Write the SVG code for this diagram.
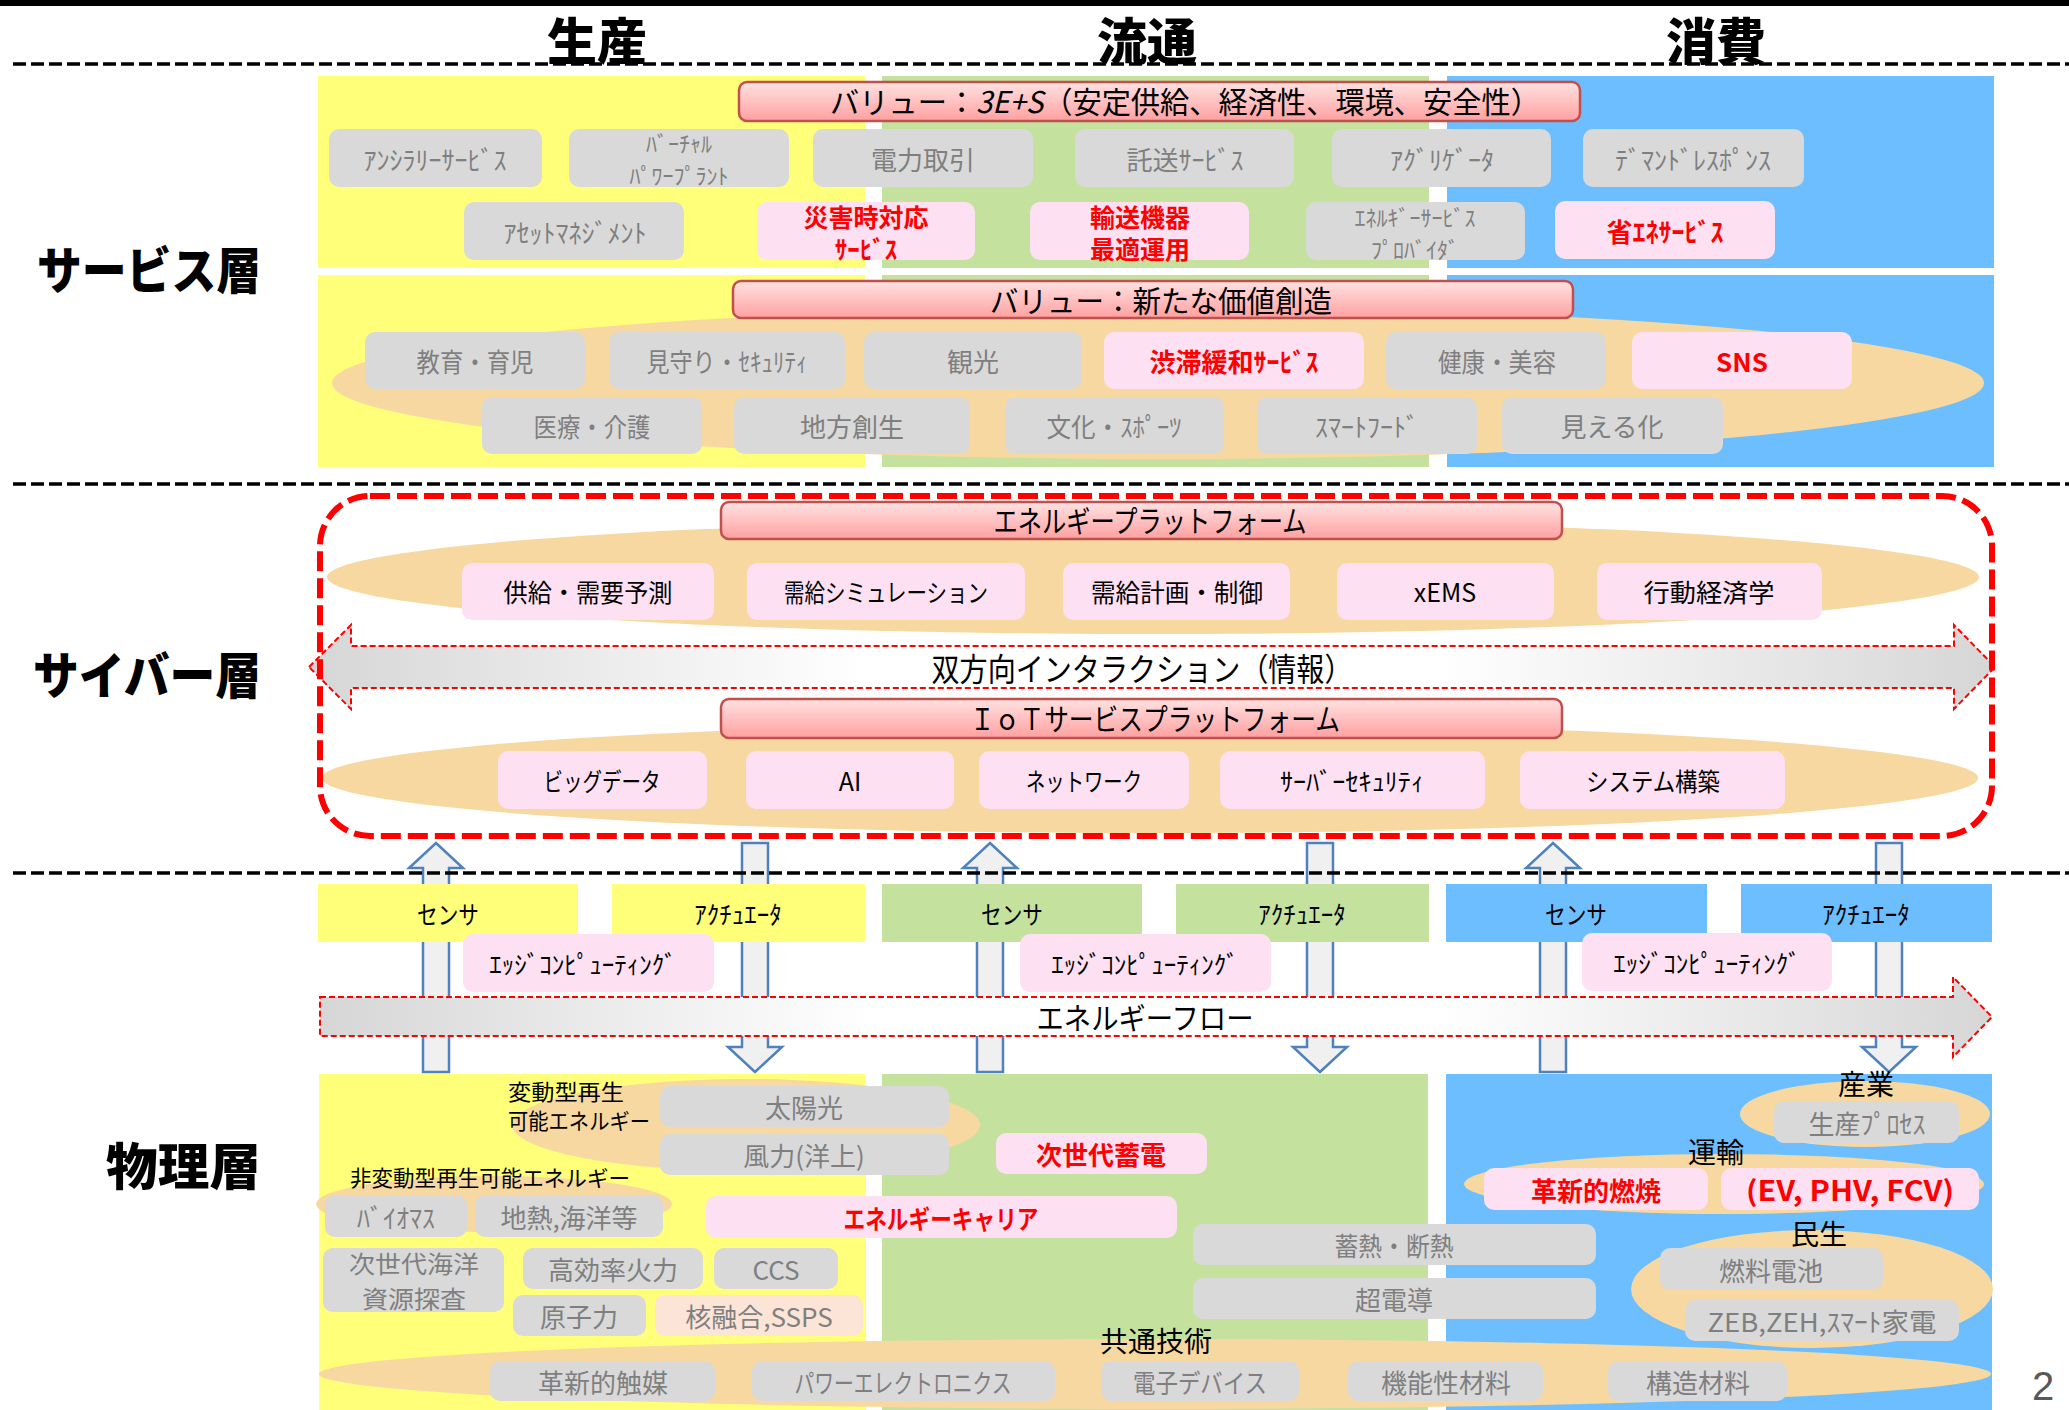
<svg xmlns="http://www.w3.org/2000/svg" width="2069" height="1410" viewBox="0 0 2069 1410">
<defs>
<linearGradient id="ban" x1="0" y1="0" x2="0" y2="1">
<stop offset="0" stop-color="#FFE2E2"/><stop offset="1" stop-color="#FFA0A0"/>
</linearGradient>
<linearGradient id="flow" x1="0" y1="0" x2="1" y2="0">
<stop offset="0" stop-color="#D6D6D6"/><stop offset="0.33" stop-color="#FFFFFF"/><stop offset="0.67" stop-color="#FFFFFF"/><stop offset="1" stop-color="#D6D6D6"/>
</linearGradient>
<style>
text{font-family:"Noto Sans CJK JP","Noto Sans",sans-serif;dominant-baseline:central;text-anchor:middle}
.gb{fill:#D9D9D9}
.pb{fill:#FDE0F2}
.fb{fill:#FCE4D6}
.gt{fill:#7F7F7F;font-size:26px}
.g2{fill:#7F7F7F;font-size:22px}
.g3{fill:#7F7F7F;font-size:24px}
.rt{fill:#FF0000;font-size:26px;font-weight:700}
.r2{fill:#FF0000;font-size:25px;font-weight:700}
.kt{fill:#000;font-size:25px}
.lt{fill:#000;font-size:28px}
.st{fill:#000;font-size:22px;text-anchor:start}
.ban{fill:url(#ban);stroke:#C0504D;stroke-width:2.5}
.bt{fill:#000;font-size:30px}
.ell{fill:#F7D8A0}
.hd{font-size:50px;font-weight:900;fill:#000}
.ly{font-size:50px;font-weight:900;fill:#000;text-anchor:end}
.sep{stroke:#000;stroke-width:3.5;stroke-dasharray:13 5;fill:none}
.va{fill:#F0F0F0;stroke:#4F81BD;stroke-width:2.5}
.big{fill:url(#flow);stroke:#FF0000;stroke-width:2;stroke-dasharray:6 3}
.y{fill:#FFFF79}.gr{fill:#C4E29E}.bl{fill:#6CBEFF}
</style>
</defs>
<rect x="0" y="0" width="2069" height="6" fill="#000"/>

<g id="headers">
<text class="hd" x="597" y="38">生産</text>
<text class="hd" x="1147" y="38">流通</text>
<text class="hd" x="1716" y="38">消費</text>
</g>
<g id="layer-labels">
<text class="ly" x="261" y="267" textLength="224" lengthAdjust="spacingAndGlyphs">サービス層</text>
<text class="ly" x="261" y="672" textLength="228" lengthAdjust="spacingAndGlyphs">サイバー層</text>
<text class="ly" x="261" y="1163" textLength="155" lengthAdjust="spacingAndGlyphs">物理層</text>
</g>

<!-- service layer backgrounds -->
<g id="service-bg">
<rect class="y" x="318" y="76" width="547" height="192"/>
<rect class="gr" x="882" y="76" width="547" height="192"/>
<rect class="bl" x="1447" y="76" width="547" height="192"/>
<rect class="y" x="318" y="275" width="547" height="192"/>
<rect class="gr" x="882" y="275" width="547" height="192"/>
<rect class="bl" x="1447" y="275" width="547" height="192"/>
<ellipse class="ell" cx="1158" cy="383" rx="826" ry="76"/>
</g>

<g id="value-3ES">
<rect class="ban" x="739" y="82" width="841" height="39" rx="8"/>
<text class="bt" x="830" y="100" style="text-anchor:start" textLength="710" lengthAdjust="spacingAndGlyphs">バリュー：<tspan font-style="italic">3E+S</tspan>（安定供給、経済性、環境、安全性）</text>
</g>
<g id="s-ancillary"><rect class="gb" x="329" y="129" width="213" height="58" rx="10"/><text class="gt" x="435" y="158">ｱﾝｼﾗﾘｰｻｰﾋﾞｽ</text></g>
<g id="s-vpp"><rect class="gb" x="569" y="129" width="220" height="58" rx="10"/><text class="g2"><tspan x="679" y="142">ﾊﾞｰﾁｬﾙ</tspan><tspan x="679" y="174">ﾊﾟﾜｰﾌﾟﾗﾝﾄ</tspan></text></g>
<g id="s-trade"><rect class="gb" x="813" y="129" width="220" height="58" rx="10"/><text class="gt" x="923" y="158">電力取引</text></g>
<g id="s-wheeling"><rect class="gb" x="1075" y="129" width="219" height="58" rx="10"/><text class="gt" x="1185" y="158">託送ｻｰﾋﾞｽ</text></g>
<g id="s-aggregator"><rect class="gb" x="1332" y="129" width="219" height="58" rx="10"/><text class="gt" x="1442" y="158">ｱｸﾞﾘｹﾞｰﾀ</text></g>
<g id="s-dr"><rect class="gb" x="1583" y="129" width="221" height="58" rx="10"/><text class="gt" x="1693" y="158">ﾃﾞﾏﾝﾄﾞﾚｽﾎﾟﾝｽ</text></g>
<g id="s-asset"><rect class="gb" x="464" y="202" width="220" height="58" rx="10"/><text class="gt" x="575" y="231">ｱｾｯﾄﾏﾈｼﾞﾒﾝﾄ</text></g>
<g id="s-disaster"><rect class="pb" x="757" y="202" width="218" height="58" rx="10"/><text class="r2"><tspan x="866" y="216">災害時対応</tspan><tspan x="866" y="248">ｻｰﾋﾞｽ</tspan></text></g>
<g id="s-transport"><rect class="pb" x="1030" y="202" width="219" height="58" rx="10"/><text class="r2"><tspan x="1140" y="216">輸送機器</tspan><tspan x="1140" y="248">最適運用</tspan></text></g>
<g id="s-esp"><rect class="gb" x="1306" y="202" width="219" height="58" rx="10"/><text class="g2"><tspan x="1415" y="216">ｴﾈﾙｷﾞｰｻｰﾋﾞｽ</tspan><tspan x="1415" y="248">ﾌﾟﾛﾊﾞｲﾀﾞ</tspan></text></g>
<g id="s-energysaving"><rect class="pb" x="1555" y="201" width="220" height="58" rx="10"/><text class="rt" x="1665" y="230">省ｴﾈｻｰﾋﾞｽ</text></g>

<g id="value-new">
<rect class="ban" x="733" y="281" width="840" height="37" rx="8"/>
<text class="bt" x="1161" y="299" textLength="342" lengthAdjust="spacingAndGlyphs">バリュー：新たな価値創造</text>
</g>
<g id="s-education"><rect class="gb" x="365" y="332" width="220" height="57" rx="10"/><text class="gt" x="475" y="360" textLength="117" lengthAdjust="spacingAndGlyphs">教育・育児</text></g>
<g id="s-security"><rect class="gb" x="609" y="332" width="236" height="57" rx="10"/><text class="gt" x="727" y="360" textLength="161" lengthAdjust="spacingAndGlyphs">見守り・ｾｷｭﾘﾃｨ</text></g>
<g id="s-tourism"><rect class="gb" x="864" y="332" width="218" height="57" rx="10"/><text class="gt" x="973" y="360">観光</text></g>
<g id="s-traffic"><rect class="pb" x="1104" y="332" width="260" height="57" rx="10"/><text class="rt" x="1234" y="360">渋滞緩和ｻｰﾋﾞｽ</text></g>
<g id="s-health"><rect class="gb" x="1386" y="332" width="220" height="57" rx="10"/><text class="gt" x="1497" y="360" textLength="118" lengthAdjust="spacingAndGlyphs">健康・美容</text></g>
<g id="s-sns"><rect class="pb" x="1632" y="332" width="220" height="57" rx="10"/><text class="rt" x="1742" y="360">SNS</text></g>
<g id="s-medical"><rect class="gb" x="482" y="397" width="220" height="57" rx="10"/><text class="gt" x="592" y="425" textLength="117" lengthAdjust="spacingAndGlyphs">医療・介護</text></g>
<g id="s-regional"><rect class="gb" x="734" y="397" width="236" height="57" rx="10"/><text class="gt" x="852" y="425">地方創生</text></g>
<g id="s-culture"><rect class="gb" x="1005" y="397" width="219" height="57" rx="10"/><text class="gt" x="1114" y="425" textLength="135" lengthAdjust="spacingAndGlyphs">文化・ｽﾎﾟｰﾂ</text></g>
<g id="s-smartfood"><rect class="gb" x="1257" y="397" width="220" height="57" rx="10"/><text class="gt" x="1367" y="425">ｽﾏｰﾄﾌｰﾄﾞ</text></g>
<g id="s-visual"><rect class="gb" x="1502" y="397" width="221" height="57" rx="10"/><text class="gt" x="1612" y="425">見える化</text></g>

<!-- cyber layer -->
<g id="cyber-bg">
<ellipse class="ell" cx="1153" cy="577" rx="826" ry="57"/>
<ellipse class="ell" cx="1150" cy="778" rx="828" ry="55"/>
</g>
<g id="energy-platform">
<rect class="ban" x="721" y="502" width="841" height="37" rx="8"/>
<text class="bt" x="1150" y="519" textLength="313" lengthAdjust="spacingAndGlyphs">エネルギープラットフォーム</text>
</g>
<g id="c-forecast"><rect class="pb" x="462" y="563" width="252" height="57" rx="10"/><text class="kt" x="588" y="591" textLength="169" lengthAdjust="spacingAndGlyphs">供給・需要予測</text></g>
<g id="c-simulation"><rect class="pb" x="747" y="563" width="278" height="57" rx="10"/><text class="kt" x="886" y="591" textLength="204" lengthAdjust="spacingAndGlyphs">需給シミュレーション</text></g>
<g id="c-control"><rect class="pb" x="1063" y="563" width="227" height="57" rx="10"/><text class="kt" x="1177" y="591" textLength="172" lengthAdjust="spacingAndGlyphs">需給計画・制御</text></g>
<g id="c-xems"><rect class="pb" x="1337" y="563" width="217" height="57" rx="10"/><text class="kt" x="1445" y="591">xEMS</text></g>
<g id="c-behavior"><rect class="pb" x="1597" y="563" width="225" height="57" rx="10"/><text class="kt" x="1709" y="591" textLength="131" lengthAdjust="spacingAndGlyphs">行動経済学</text></g>

<g id="interaction">
<path class="big" d="M309,667 L351,625 L351,646 L1954,646 L1954,625 L1995,667 L1954,709 L1954,688 L351,688 L351,709 Z"/>
<text x="1142" y="667" style="font-size:32px;fill:#000" textLength="421" lengthAdjust="spacingAndGlyphs">双方向インタラクション（情報）</text>
</g>

<g id="iot-platform">
<rect class="ban" x="721" y="699" width="841" height="39" rx="8"/>
<text class="bt" x="1155" y="717" textLength="370" lengthAdjust="spacingAndGlyphs">ＩｏＴサービスプラットフォーム</text>
</g>
<g id="c-bigdata"><rect class="pb" x="498" y="751" width="209" height="58" rx="10"/><text class="kt" x="602" y="780" textLength="117" lengthAdjust="spacingAndGlyphs">ビッグデータ</text></g>
<g id="c-ai"><rect class="pb" x="746" y="751" width="208" height="58" rx="10"/><text class="kt" x="850" y="780">AI</text></g>
<g id="c-network"><rect class="pb" x="979" y="751" width="210" height="58" rx="10"/><text class="kt" x="1084" y="780" textLength="116" lengthAdjust="spacingAndGlyphs">ネットワーク</text></g>
<g id="c-cybersec"><rect class="pb" x="1220" y="751" width="265" height="58" rx="10"/><text class="kt" x="1352" y="780" textLength="144" lengthAdjust="spacingAndGlyphs">ｻｰﾊﾞｰｾｷｭﾘﾃｨ</text></g>
<g id="c-system"><rect class="pb" x="1520" y="751" width="265" height="58" rx="10"/><text class="kt" x="1653" y="780" textLength="134" lengthAdjust="spacingAndGlyphs">システム構築</text></g>

<g id="cyber-frame">
<rect x="320" y="496" width="1672" height="340" rx="50" fill="none" stroke="#FF0000" stroke-width="6" stroke-dasharray="20 7"/>
</g>

<!-- connectors -->
<g id="connectors">
<path class="va" d="M436,843 L463,868 L449,868 L449,1072 L423,1072 L423,868 L409,868 Z"/>
<path class="va" d="M742,843 L768,843 L768,1047 L782,1047 L755,1072 L728,1047 L742,1047 Z"/>
<path class="va" d="M990,843 L1017,868 L1003,868 L1003,1072 L977,1072 L977,868 L963,868 Z"/>
<path class="va" d="M1307,843 L1333,843 L1333,1047 L1347,1047 L1320,1072 L1293,1047 L1307,1047 Z"/>
<path class="va" d="M1553,843 L1580,868 L1566,868 L1566,1072 L1540,1072 L1540,868 L1526,868 Z"/>
<path class="va" d="M1876,843 L1902,843 L1902,1047 L1916,1047 L1889,1072 L1862,1047 L1876,1047 Z"/>
</g>

<g id="separators">
<line class="sep" x1="13" y1="64" x2="2069" y2="64"/>
<line class="sep" x1="13" y1="484" x2="2069" y2="484"/>
<line class="sep" x1="13" y1="873" x2="2069" y2="873"/>
</g>

<!-- physical layer -->
<g id="p-sensor-1"><rect class="y" x="318" y="884" width="260" height="58"/><text class="kt" x="448" y="913" textLength="62" lengthAdjust="spacingAndGlyphs">センサ</text></g>
<g id="p-actuator-1"><rect class="y" x="612" y="884" width="253" height="58"/><text class="kt" x="738" y="913">ｱｸﾁｭｴｰﾀ</text></g>
<g id="p-sensor-2"><rect class="gr" x="882" y="884" width="260" height="58"/><text class="kt" x="1012" y="913" textLength="62" lengthAdjust="spacingAndGlyphs">センサ</text></g>
<g id="p-actuator-2"><rect class="gr" x="1176" y="884" width="253" height="58"/><text class="kt" x="1302" y="913">ｱｸﾁｭｴｰﾀ</text></g>
<g id="p-sensor-3"><rect class="bl" x="1446" y="884" width="261" height="58"/><text class="kt" x="1576" y="913" textLength="62" lengthAdjust="spacingAndGlyphs">センサ</text></g>
<g id="p-actuator-3"><rect class="bl" x="1741" y="884" width="251" height="58"/><text class="kt" x="1866" y="913">ｱｸﾁｭｴｰﾀ</text></g>
<g id="p-edge-1"><rect class="pb" x="463" y="934" width="251" height="58" rx="10"/><text class="kt" x="583" y="963">ｴｯｼﾞｺﾝﾋﾟｭｰﾃｨﾝｸﾞ</text></g>
<g id="p-edge-2"><rect class="pb" x="1020" y="934" width="251" height="58" rx="10"/><text class="kt" x="1145" y="963">ｴｯｼﾞｺﾝﾋﾟｭｰﾃｨﾝｸﾞ</text></g>
<g id="p-edge-3"><rect class="pb" x="1582" y="933" width="250" height="58" rx="10"/><text class="kt" x="1707" y="962">ｴｯｼﾞｺﾝﾋﾟｭｰﾃｨﾝｸﾞ</text></g>

<g id="energy-flow">
<path class="big" d="M320,997 L1953,997 L1953,977 L1992,1017 L1953,1057 L1953,1036 L320,1036 Z"/>
<text x="1145" y="1016" style="font-size:30px;fill:#000" textLength="217" lengthAdjust="spacingAndGlyphs">エネルギーフロー</text>
</g>

<g id="physical-bg">
<rect class="y" x="319" y="1074" width="547" height="336"/>
<rect class="gr" x="882" y="1074" width="546" height="336"/>
<rect class="bl" x="1446" y="1074" width="546" height="336"/>
<ellipse class="ell" cx="746" cy="1125" rx="234" ry="46"/>
<ellipse class="ell" cx="494" cy="1204" rx="178" ry="28"/>
<ellipse class="ell" cx="1155" cy="1374" rx="836" ry="35"/>
<ellipse class="ell" cx="1865" cy="1114" rx="125" ry="33"/>
<ellipse class="ell" cx="1724" cy="1184" rx="260" ry="30"/>
<ellipse class="ell" cx="1812" cy="1289" rx="181" ry="59"/>
</g>

<g id="p-variable-label"><text class="st" x="508" y="1090" textLength="116" lengthAdjust="spacingAndGlyphs">変動型再生</text><text class="st" x="508" y="1119" textLength="142" lengthAdjust="spacingAndGlyphs">可能エネルギー</text></g>
<g id="p-solar"><rect class="gb" x="660" y="1086" width="289" height="41" rx="10"/><text class="gt" x="804" y="1106">太陽光</text></g>
<g id="p-wind"><rect class="gb" x="660" y="1134" width="289" height="41" rx="10"/><text class="gt" x="804" y="1154">風力(洋上)</text></g>
<g id="p-nonvariable-label"><text class="st" x="350" y="1176" textLength="280" lengthAdjust="spacingAndGlyphs">非変動型再生可能エネルギー</text></g>
<g id="p-biomass"><rect class="gb" x="325" y="1195" width="142" height="42" rx="10"/><text class="gt" x="396" y="1216">ﾊﾞｲｵﾏｽ</text></g>
<g id="p-geothermal"><rect class="gb" x="475" y="1195" width="188" height="42" rx="10"/><text class="gt" x="569" y="1216">地熱,海洋等</text></g>
<g id="p-carrier"><rect class="pb" x="706" y="1196" width="471" height="42" rx="10"/><text class="rt" x="941" y="1217" textLength="195" lengthAdjust="spacingAndGlyphs">エネルギーキャリア</text></g>
<g id="p-storage"><rect class="pb" x="996" y="1133" width="211" height="41" rx="10"/><text class="rt" x="1101" y="1153">次世代蓄電</text></g>
<g id="p-ocean"><rect class="gb" x="323" y="1248" width="181" height="64" rx="10"/><text class="g3"><tspan x="414" y="1262" textLength="130" lengthAdjust="spacingAndGlyphs">次世代海洋</tspan><tspan x="414" y="1297" textLength="104" lengthAdjust="spacingAndGlyphs">資源探査</tspan></text></g>
<g id="p-thermal"><rect class="gb" x="523" y="1248" width="180" height="41" rx="10"/><text class="gt" x="613" y="1268">高効率火力</text></g>
<g id="p-ccs"><rect class="gb" x="714" y="1248" width="124" height="41" rx="10"/><text class="gt" x="776" y="1268">CCS</text></g>
<g id="p-nuclear"><rect class="gb" x="513" y="1295" width="133" height="41" rx="10"/><text class="gt" x="579" y="1315">原子力</text></g>
<g id="p-fusion"><rect class="fb" x="655" y="1295" width="208" height="41" rx="10"/><text class="gt" x="759" y="1315">核融合,SSPS</text></g>
<g id="p-heat"><rect class="gb" x="1193" y="1224" width="403" height="41" rx="10"/><text class="gt" x="1394" y="1244" textLength="119" lengthAdjust="spacingAndGlyphs">蓄熱・断熱</text></g>
<g id="p-superconduct"><rect class="gb" x="1193" y="1278" width="403" height="41" rx="10"/><text class="gt" x="1394" y="1298">超電導</text></g>

<g id="p-industry">
<text class="lt" x="1866" y="1083">産業</text>
<rect class="gb" x="1774" y="1101" width="185" height="42" rx="10"/><text class="gt" x="1867" y="1122">生産ﾌﾟﾛｾｽ</text>
</g>
<g id="p-transport">
<text class="lt" x="1716" y="1151">運輸</text>
<rect class="pb" x="1484" y="1168" width="224" height="42" rx="10"/><text class="rt" x="1596" y="1189">革新的燃焼</text>
<rect class="pb" x="1721" y="1168" width="258" height="42" rx="10"/><text class="rt" x="1850" y="1189" style="font-size:28px" textLength="208" lengthAdjust="spacingAndGlyphs">(EV, PHV, FCV)</text>
</g>
<g id="p-residential">
<text class="lt" x="1819" y="1233">民生</text>
<rect class="gb" x="1660" y="1248" width="223" height="42" rx="10"/><text class="gt" x="1771" y="1269">燃料電池</text>
<rect class="gb" x="1685" y="1300" width="274" height="41" rx="10"/><text class="gt" x="1822" y="1320" textLength="229" lengthAdjust="spacingAndGlyphs">ZEB,ZEH,ｽﾏｰﾄ家電</text>
</g>
<g id="p-common">
<text class="lt" x="1156" y="1340">共通技術</text>
<rect class="gb" x="490" y="1361" width="225" height="40" rx="10"/><text class="gt" x="603" y="1381">革新的触媒</text>
<rect class="gb" x="752" y="1361" width="303" height="40" rx="10"/><text class="gt" x="903" y="1381" textLength="217" lengthAdjust="spacingAndGlyphs">パワーエレクトロニクス</text>
<rect class="gb" x="1101" y="1361" width="198" height="40" rx="10"/><text class="gt" x="1200" y="1381" textLength="134" lengthAdjust="spacingAndGlyphs">電子デバイス</text>
<rect class="gb" x="1348" y="1361" width="195" height="40" rx="10"/><text class="gt" x="1446" y="1381">機能性材料</text>
<rect class="gb" x="1608" y="1361" width="179" height="40" rx="10"/><text class="gt" x="1698" y="1381">構造材料</text>
</g>

<text x="2032" y="1400" style="font-family:'Liberation Sans',sans-serif;font-size:40px;fill:#595959;text-anchor:start;dominant-baseline:auto">2</text>
</svg>
